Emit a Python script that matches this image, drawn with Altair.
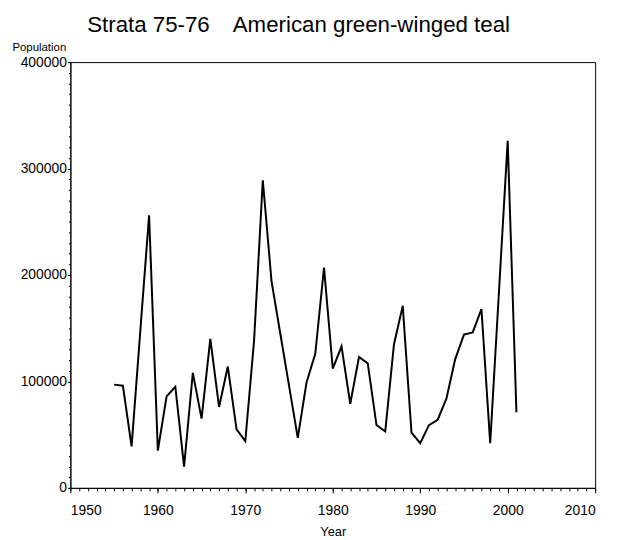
import altair as alt
import pandas as pd

years = list(range(1955, 2002))
population = [
    97000, 96000, 39000, 148000, 256000, 35000, 86000, 95000, 20000, 108000,
    65000, 140000, 76000, 114000, 55000, 44000, 138000, 289000, 194000, 145000,
    96000, 47000, 99000, 126000, 207000, 112000, 133000, 79000, 123000, 117000,
    59000, 53000, 135000, 171000, 52000, 42000, 59000, 64000, 84000, 121000,
    144000, 146000, 168000, 42000, 184000, 326000, 71000,
]
x_major = [1950, 1960, 1970, 1980, 1990, 2000, 2010]
y_major = [0, 100000, 200000, 300000, 400000]
x_minor = list(range(1950, 2011))
y_minor = list(range(0, 400001, 10000))

df = pd.DataFrame({"Year": years, "Population": population})

FONT = "Liberation Sans"
xscale = alt.Scale(domain=[1950, 2010], nice=False, zero=False)
yscale = alt.Scale(domain=[0, 400000], nice=False)

main = alt.Chart(df).mark_line(color="black", strokeWidth=2).encode(
    x=alt.X("Year:Q", scale=xscale,
            axis=alt.Axis(values=x_major, format="d", tickSize=5, labelPadding=11,
                          labelFontSize=14, title="Year", titleFontSize=13,
                          titleFontWeight="normal", titlePadding=8, grid=False,
                          domainColor="black", tickColor="black", labelColor="black",
                          titleColor="black", labelFont=FONT, titleFont=FONT,
                          orient="bottom")),
    y=alt.Y("Population:Q", scale=yscale,
            axis=alt.Axis(values=y_major, format="d", tickSize=3, labelPadding=1,
                          labelFontSize=14, title="Population", titleFontSize=11.5,
                          titleFontWeight="normal", titleAngle=0, titleAlign="left",
                          titleBaseline="middle", titleX=-59, titleY=-15, grid=False,
                          domainColor="black", tickColor="black", labelColor="black",
                          titleColor="black", labelFont=FONT, titleFont=FONT,
                          orient="left")),
)

minor = alt.Chart(df).mark_line(opacity=0).encode(
    x=alt.X("Year:Q", scale=xscale,
            axis=alt.Axis(values=x_minor, labels=False, domain=False, title=None,
                          tickSize=3, grid=False, tickColor="black", orient="bottom")),
    y=alt.Y("Population:Q", scale=yscale,
            axis=alt.Axis(values=y_minor, labels=False, domain=False, title=None,
                          tickSize=2, grid=False, tickColor="black", orient="left")),
)

chart = alt.layer(main, minor).resolve_axis(x="independent", y="independent").properties(
    width=530,
    height=430,
    autosize=alt.AutoSizeParams(type="none"),
    padding={"left": 63, "top": 52, "right": 15, "bottom": 50},
    title=alt.TitleParams(
        "Strata 75-76\u00a0\u00a0\u00a0\u2009American green-winged teal",
        fontSize=22.5, font=FONT, fontWeight="normal", color="black",
        anchor="middle", baseline="alphabetic", dx=-34.5, dy=21, offset=8,
    ),
).configure_view(stroke="black", strokeWidth=1)

chart.save("out.html", embed_options={"renderer": "svg", "actions": False})
